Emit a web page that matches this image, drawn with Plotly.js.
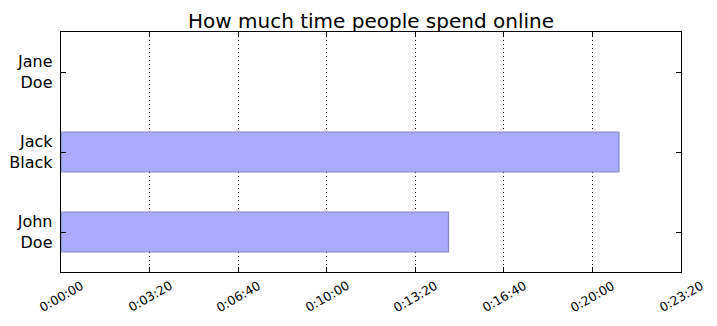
<!DOCTYPE html>
<html>
<head>
<meta charset="utf-8">
<script src="https://cdn.plot.ly/plotly-3.0.1.min.js"></script>
<style>html,body{margin:0;padding:0;background:#fff;}#chart{width:717px;height:326px;}</style>
</head>
<body>
<div id="chart"></div>
<script>
// Data
const people = ['John<br>Doe', 'Jack<br>Black', 'Jane<br>Doe'];
const secondsOnline = [875, 1260, 0];
const xTickValues = [0, 200, 400, 600, 800, 1000, 1200, 1400];
const xTickLabels = ['0:00:00', '0:03:20', '0:06:40', '0:10:00', '0:13:20', '0:16:40', '0:20:00', '0:23:20'];

const font = 'DejaVu Sans, sans-serif';

const trace = {
  type: 'bar',
  orientation: 'h',
  x: secondsOnline,
  y: [0, 1, 2],
  width: 0.5,
  marker: {
    color: 'rgb(170,170,255)',
    line: {color: 'rgb(136,136,196)', width: secondsOnline.map(v => v > 0 ? 1.2 : 0)}
  },
  hoverinfo: 'none'
};

// rotated x tick labels centred on their ticks (like matplotlib ha='center')
const tickAnnotations = xTickValues.map((v, i) => ({
  x: v, xref: 'x', y: 0, yref: 'paper',
  text: xTickLabels[i], showarrow: false,
  textangle: -30, xanchor: 'center', yanchor: 'middle',
  yshift: -24,
  font: {family: font, size: 12.5, color: '#000'}
}));

const layout = {
  width: 717, height: 326,
  margin: {l: 61, r: 36, t: 32, b: 54, pad: 0},
  paper_bgcolor: '#fff', plot_bgcolor: '#fff',
  showlegend: false,
  title: {
    text: 'How much time people spend online',
    font: {family: font, size: 20, color: '#000'},
    x: 0.5, xref: 'paper', xanchor: 'center',
    y: 1, yref: 'paper', yanchor: 'bottom',
    pad: {b: 4}
  },
  xaxis: {
    range: [0, 1400],
    tickvals: xTickValues, ticktext: xTickLabels,
    showticklabels: false,
    ticks: 'inside', ticklen: 5, tickcolor: '#000', tickwidth: 1,
    showline: true, linecolor: '#000', linewidth: 1.3, mirror: 'ticks',
    showgrid: true, gridcolor: '#000', gridwidth: 1, griddash: '1px,3px',
    zeroline: false, fixedrange: true
  },
  yaxis: {
    range: [-0.5, 2.5],
    tickvals: [0, 1, 2], ticktext: people,
    tickfont: {family: font, size: 16, color: '#000'},
    ticklabelstandoff: 4,
    ticks: 'inside', ticklen: 5, tickcolor: '#000', tickwidth: 1,
    showline: true, linecolor: '#000', linewidth: 1.3, mirror: 'ticks',
    showgrid: false, zeroline: false, fixedrange: true
  },
  annotations: tickAnnotations
};

Plotly.newPlot('chart', [trace], layout, {displayModeBar: false, staticPlot: true});
</script>
</body>
</html>
